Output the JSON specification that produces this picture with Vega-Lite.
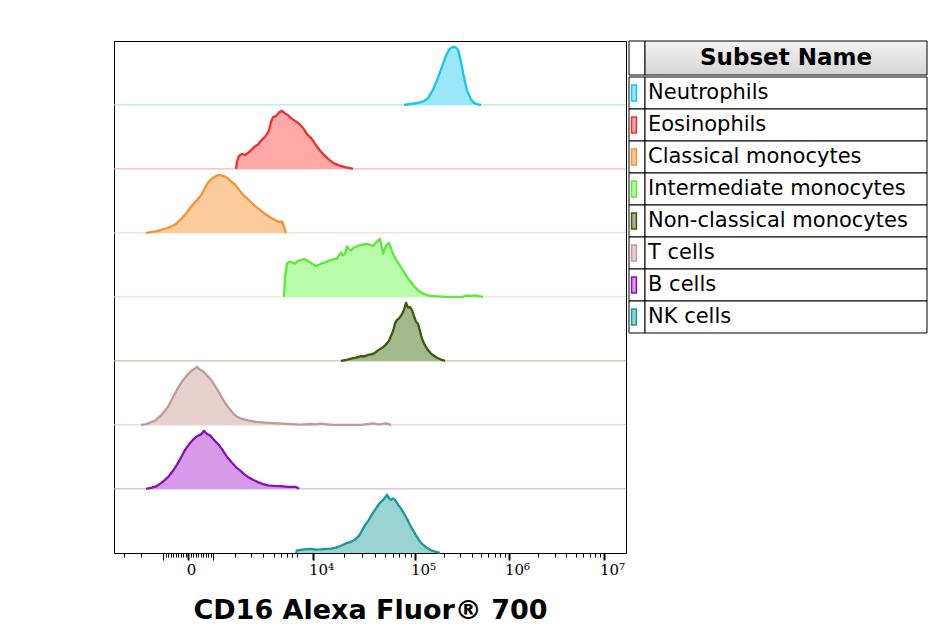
{
  "$schema": "https://vega.github.io/schema/vega-lite/v6.json",
  "padding": {"left": 113, "top": 40, "right": 0, "bottom": 0},
  "background": "white",
  "config": {"view": {"stroke": null}, "font": "DejaVu Sans"},
  "datasets": {
    "subsets": [
      {"subset": "Neutrophils"}, {"subset": "Eosinophils"}, {"subset": "Classical monocytes"}, {"subset": "Intermediate monocytes"},
      {"subset": "Non-classical monocytes"}, {"subset": "T cells"}, {"subset": "B cells"}, {"subset": "NK cells"}
    ],
    "hist": [
      {"subset":"Neutrophils","ch":580,"pct":0},{"subset":"Neutrophils","ch":594,"pct":1.5},{"subset":"Neutrophils","ch":608,"pct":3.6},{"subset":"Neutrophils","ch":620,"pct":6.3},{"subset":"Neutrophils","ch":628,"pct":11.7},{"subset":"Neutrophils","ch":638,"pct":26},{"subset":"Neutrophils","ch":648,"pct":47},{"subset":"Neutrophils","ch":657,"pct":68},{"subset":"Neutrophils","ch":664,"pct":85},{"subset":"Neutrophils","ch":671,"pct":96},{"subset":"Neutrophils","ch":676,"pct":99},{"subset":"Neutrophils","ch":680,"pct":100},{"subset":"Neutrophils","ch":685,"pct":98},{"subset":"Neutrophils","ch":689,"pct":93},{"subset":"Neutrophils","ch":694,"pct":74},{"subset":"Neutrophils","ch":699,"pct":52},{"subset":"Neutrophils","ch":706,"pct":25},{"subset":"Neutrophils","ch":714,"pct":9},{"subset":"Neutrophils","ch":721,"pct":3},{"subset":"Neutrophils","ch":727,"pct":1},{"subset":"Neutrophils","ch":734,"pct":0},

      {"subset":"Eosinophils","ch":244,"pct":0},{"subset":"Eosinophils","ch":246,"pct":12.6},{"subset":"Eosinophils","ch":250,"pct":22.4},{"subset":"Eosinophils","ch":256,"pct":25.6},{"subset":"Eosinophils","ch":262,"pct":24},{"subset":"Eosinophils","ch":268,"pct":27.3},{"subset":"Eosinophils","ch":274,"pct":32},{"subset":"Eosinophils","ch":282,"pct":38.7},{"subset":"Eosinophils","ch":288,"pct":42},{"subset":"Eosinophils","ch":294,"pct":48.4},{"subset":"Eosinophils","ch":300,"pct":53.3},{"subset":"Eosinophils","ch":306,"pct":59.8},{"subset":"Eosinophils","ch":310,"pct":66},{"subset":"Eosinophils","ch":314,"pct":81},{"subset":"Eosinophils","ch":318,"pct":89},{"subset":"Eosinophils","ch":324,"pct":90.8},{"subset":"Eosinophils","ch":330,"pct":97.3},{"subset":"Eosinophils","ch":336,"pct":100},{"subset":"Eosinophils","ch":342,"pct":95.6},{"subset":"Eosinophils","ch":348,"pct":92.4},{"subset":"Eosinophils","ch":354,"pct":87.5},{"subset":"Eosinophils","ch":362,"pct":82.6},{"subset":"Eosinophils","ch":368,"pct":79.4},{"subset":"Eosinophils","ch":374,"pct":74.5},{"subset":"Eosinophils","ch":380,"pct":68},{"subset":"Eosinophils","ch":386,"pct":59.8},{"subset":"Eosinophils","ch":394,"pct":53.3},{"subset":"Eosinophils","ch":402,"pct":43.5},{"subset":"Eosinophils","ch":410,"pct":33.8},{"subset":"Eosinophils","ch":420,"pct":24},{"subset":"Eosinophils","ch":430,"pct":15.9},{"subset":"Eosinophils","ch":440,"pct":9.4},{"subset":"Eosinophils","ch":450,"pct":6.1},{"subset":"Eosinophils","ch":460,"pct":3.3},{"subset":"Eosinophils","ch":474,"pct":0.7},{"subset":"Eosinophils","ch":478,"pct":0},

      {"subset":"Classical monocytes","ch":64,"pct":0},{"subset":"Classical monocytes","ch":74,"pct":1.3},{"subset":"Classical monocytes","ch":84,"pct":2.6},{"subset":"Classical monocytes","ch":94,"pct":5},{"subset":"Classical monocytes","ch":104,"pct":7.5},{"subset":"Classical monocytes","ch":114,"pct":10.7},{"subset":"Classical monocytes","ch":124,"pct":15.6},{"subset":"Classical monocytes","ch":134,"pct":23.8},{"subset":"Classical monocytes","ch":144,"pct":33.5},{"subset":"Classical monocytes","ch":154,"pct":45},{"subset":"Classical monocytes","ch":164,"pct":54.7},{"subset":"Classical monocytes","ch":174,"pct":64.5},{"subset":"Classical monocytes","ch":180,"pct":74.2},{"subset":"Classical monocytes","ch":186,"pct":84},{"subset":"Classical monocytes","ch":192,"pct":90.5},{"subset":"Classical monocytes","ch":198,"pct":94.6},{"subset":"Classical monocytes","ch":204,"pct":97.8},{"subset":"Classical monocytes","ch":210,"pct":100},{"subset":"Classical monocytes","ch":216,"pct":98.7},{"subset":"Classical monocytes","ch":222,"pct":97},{"subset":"Classical monocytes","ch":228,"pct":93.8},{"subset":"Classical monocytes","ch":234,"pct":88.9},{"subset":"Classical monocytes","ch":242,"pct":83.2},{"subset":"Classical monocytes","ch":250,"pct":74.2},{"subset":"Classical monocytes","ch":258,"pct":66},{"subset":"Classical monocytes","ch":266,"pct":59.6},{"subset":"Classical monocytes","ch":274,"pct":53},{"subset":"Classical monocytes","ch":282,"pct":46.6},{"subset":"Classical monocytes","ch":290,"pct":40.9},{"subset":"Classical monocytes","ch":298,"pct":35.2},{"subset":"Classical monocytes","ch":306,"pct":30.3},{"subset":"Classical monocytes","ch":314,"pct":26.2},{"subset":"Classical monocytes","ch":322,"pct":22.1},{"subset":"Classical monocytes","ch":330,"pct":18.9},{"subset":"Classical monocytes","ch":336,"pct":20},{"subset":"Classical monocytes","ch":340,"pct":10.7},{"subset":"Classical monocytes","ch":344,"pct":0},

      {"subset":"Intermediate monocytes","ch":340,"pct":0},{"subset":"Intermediate monocytes","ch":342,"pct":33.4},{"subset":"Intermediate monocytes","ch":346,"pct":57.8},{"subset":"Intermediate monocytes","ch":350,"pct":60.2},{"subset":"Intermediate monocytes","ch":356,"pct":59.4},{"subset":"Intermediate monocytes","ch":362,"pct":57},{"subset":"Intermediate monocytes","ch":368,"pct":61.9},{"subset":"Intermediate monocytes","ch":374,"pct":63.5},{"subset":"Intermediate monocytes","ch":380,"pct":65.1},{"subset":"Intermediate monocytes","ch":386,"pct":62.7},{"subset":"Intermediate monocytes","ch":392,"pct":59.4},{"subset":"Intermediate monocytes","ch":398,"pct":56.2},{"subset":"Intermediate monocytes","ch":404,"pct":52.9},{"subset":"Intermediate monocytes","ch":410,"pct":55.4},{"subset":"Intermediate monocytes","ch":416,"pct":57.8},{"subset":"Intermediate monocytes","ch":422,"pct":59.4},{"subset":"Intermediate monocytes","ch":428,"pct":61.9},{"subset":"Intermediate monocytes","ch":434,"pct":63.5},{"subset":"Intermediate monocytes","ch":440,"pct":65.1},{"subset":"Intermediate monocytes","ch":446,"pct":65.9},{"subset":"Intermediate monocytes","ch":450,"pct":72.4},{"subset":"Intermediate monocytes","ch":454,"pct":76.5},{"subset":"Intermediate monocytes","ch":458,"pct":71.6},{"subset":"Intermediate monocytes","ch":462,"pct":74},{"subset":"Intermediate monocytes","ch":466,"pct":87},{"subset":"Intermediate monocytes","ch":470,"pct":82.2},{"subset":"Intermediate monocytes","ch":474,"pct":79.8},{"subset":"Intermediate monocytes","ch":478,"pct":83.8},{"subset":"Intermediate monocytes","ch":482,"pct":85.5},{"subset":"Intermediate monocytes","ch":488,"pct":87.9},{"subset":"Intermediate monocytes","ch":494,"pct":89.5},{"subset":"Intermediate monocytes","ch":500,"pct":90.4},{"subset":"Intermediate monocytes","ch":506,"pct":91.2},{"subset":"Intermediate monocytes","ch":512,"pct":89.5},{"subset":"Intermediate monocytes","ch":518,"pct":87.6},{"subset":"Intermediate monocytes","ch":524,"pct":93.6},{"subset":"Intermediate monocytes","ch":528,"pct":96.9},{"subset":"Intermediate monocytes","ch":532,"pct":100},{"subset":"Intermediate monocytes","ch":536,"pct":83.8},{"subset":"Intermediate monocytes","ch":538,"pct":74},{"subset":"Intermediate monocytes","ch":542,"pct":83.8},{"subset":"Intermediate monocytes","ch":546,"pct":90.4},{"subset":"Intermediate monocytes","ch":550,"pct":92.8},{"subset":"Intermediate monocytes","ch":554,"pct":83.8},{"subset":"Intermediate monocytes","ch":558,"pct":74},{"subset":"Intermediate monocytes","ch":564,"pct":64.3},{"subset":"Intermediate monocytes","ch":570,"pct":56.2},{"subset":"Intermediate monocytes","ch":576,"pct":48},{"subset":"Intermediate monocytes","ch":582,"pct":39.9},{"subset":"Intermediate monocytes","ch":588,"pct":31.7},{"subset":"Intermediate monocytes","ch":594,"pct":25.2},{"subset":"Intermediate monocytes","ch":600,"pct":18.7},{"subset":"Intermediate monocytes","ch":608,"pct":11.4},{"subset":"Intermediate monocytes","ch":616,"pct":6.5},{"subset":"Intermediate monocytes","ch":624,"pct":3.6},{"subset":"Intermediate monocytes","ch":634,"pct":1.6},{"subset":"Intermediate monocytes","ch":648,"pct":0.8},{"subset":"Intermediate monocytes","ch":664,"pct":0},{"subset":"Intermediate monocytes","ch":698,"pct":0},{"subset":"Intermediate monocytes","ch":704,"pct":2.4},{"subset":"Intermediate monocytes","ch":714,"pct":1.6},{"subset":"Intermediate monocytes","ch":722,"pct":2.4},{"subset":"Intermediate monocytes","ch":730,"pct":1.3},{"subset":"Intermediate monocytes","ch":738,"pct":0},

      {"subset":"Non-classical monocytes","ch":454,"pct":0},{"subset":"Non-classical monocytes","ch":464,"pct":1.5},{"subset":"Non-classical monocytes","ch":474,"pct":3.9},{"subset":"Non-classical monocytes","ch":484,"pct":5.5},{"subset":"Non-classical monocytes","ch":494,"pct":8.3},{"subset":"Non-classical monocytes","ch":502,"pct":8},{"subset":"Non-classical monocytes","ch":508,"pct":10.4},{"subset":"Non-classical monocytes","ch":514,"pct":11.2},{"subset":"Non-classical monocytes","ch":520,"pct":12.9},{"subset":"Non-classical monocytes","ch":526,"pct":16.9},{"subset":"Non-classical monocytes","ch":532,"pct":20.2},{"subset":"Non-classical monocytes","ch":538,"pct":23.4},{"subset":"Non-classical monocytes","ch":544,"pct":28.3},{"subset":"Non-classical monocytes","ch":550,"pct":34.8},{"subset":"Non-classical monocytes","ch":554,"pct":43},{"subset":"Non-classical monocytes","ch":558,"pct":51.1},{"subset":"Non-classical monocytes","ch":562,"pct":64.1},{"subset":"Non-classical monocytes","ch":566,"pct":70.7},{"subset":"Non-classical monocytes","ch":570,"pct":73.1},{"subset":"Non-classical monocytes","ch":574,"pct":77.7},{"subset":"Non-classical monocytes","ch":578,"pct":83.7},{"subset":"Non-classical monocytes","ch":582,"pct":93.4},{"subset":"Non-classical monocytes","ch":584,"pct":100},{"subset":"Non-classical monocytes","ch":588,"pct":91.8},{"subset":"Non-classical monocytes","ch":592,"pct":92.6},{"subset":"Non-classical monocytes","ch":596,"pct":86.9},{"subset":"Non-classical monocytes","ch":600,"pct":77.2},{"subset":"Non-classical monocytes","ch":604,"pct":67.4},{"subset":"Non-classical monocytes","ch":608,"pct":64.1},{"subset":"Non-classical monocytes","ch":612,"pct":51.1},{"subset":"Non-classical monocytes","ch":616,"pct":38.1},{"subset":"Non-classical monocytes","ch":622,"pct":26.7},{"subset":"Non-classical monocytes","ch":628,"pct":18.6},{"subset":"Non-classical monocytes","ch":634,"pct":12.5},{"subset":"Non-classical monocytes","ch":640,"pct":8.8},{"subset":"Non-classical monocytes","ch":646,"pct":5.5},{"subset":"Non-classical monocytes","ch":654,"pct":2.3},{"subset":"Non-classical monocytes","ch":662,"pct":0},

      {"subset":"T cells","ch":54,"pct":0},{"subset":"T cells","ch":64,"pct":1.2},{"subset":"T cells","ch":74,"pct":4.5},{"subset":"T cells","ch":84,"pct":8.5},{"subset":"T cells","ch":94,"pct":16.2},{"subset":"T cells","ch":102,"pct":24.8},{"subset":"T cells","ch":108,"pct":31.3},{"subset":"T cells","ch":114,"pct":41.1},{"subset":"T cells","ch":120,"pct":50.9},{"subset":"T cells","ch":126,"pct":60.6},{"subset":"T cells","ch":132,"pct":68.8},{"subset":"T cells","ch":138,"pct":76.9},{"subset":"T cells","ch":144,"pct":83.4},{"subset":"T cells","ch":150,"pct":89.1},{"subset":"T cells","ch":156,"pct":94},{"subset":"T cells","ch":162,"pct":97.3},{"subset":"T cells","ch":166,"pct":100},{"subset":"T cells","ch":172,"pct":94.8},{"subset":"T cells","ch":178,"pct":92.4},{"subset":"T cells","ch":184,"pct":86.7},{"subset":"T cells","ch":190,"pct":81.8},{"subset":"T cells","ch":196,"pct":75.3},{"subset":"T cells","ch":202,"pct":67.2},{"subset":"T cells","ch":208,"pct":59},{"subset":"T cells","ch":214,"pct":49.2},{"subset":"T cells","ch":220,"pct":41.1},{"subset":"T cells","ch":226,"pct":33},{"subset":"T cells","ch":232,"pct":26.5},{"subset":"T cells","ch":238,"pct":19.9},{"subset":"T cells","ch":246,"pct":14.2},{"subset":"T cells","ch":256,"pct":10.2},{"subset":"T cells","ch":268,"pct":7.7},{"subset":"T cells","ch":284,"pct":5.3},{"subset":"T cells","ch":304,"pct":3.7},{"subset":"T cells","ch":328,"pct":2.5},{"subset":"T cells","ch":354,"pct":1.2},{"subset":"T cells","ch":374,"pct":0.4},{"subset":"T cells","ch":394,"pct":1.5},{"subset":"T cells","ch":404,"pct":0.7},{"subset":"T cells","ch":414,"pct":2},{"subset":"T cells","ch":426,"pct":1},{"subset":"T cells","ch":438,"pct":0},{"subset":"T cells","ch":494,"pct":0},{"subset":"T cells","ch":518,"pct":2.4},{"subset":"T cells","ch":530,"pct":0.9},{"subset":"T cells","ch":544,"pct":2.5},{"subset":"T cells","ch":554,"pct":0},

      {"subset":"B cells","ch":64,"pct":0},{"subset":"B cells","ch":74,"pct":1.8},{"subset":"B cells","ch":84,"pct":4.2},{"subset":"B cells","ch":94,"pct":9.9},{"subset":"B cells","ch":102,"pct":15.6},{"subset":"B cells","ch":110,"pct":22.1},{"subset":"B cells","ch":118,"pct":31.1},{"subset":"B cells","ch":126,"pct":41.7},{"subset":"B cells","ch":134,"pct":53.9},{"subset":"B cells","ch":142,"pct":66.9},{"subset":"B cells","ch":150,"pct":76.7},{"subset":"B cells","ch":158,"pct":84.8},{"subset":"B cells","ch":166,"pct":90.5},{"subset":"B cells","ch":174,"pct":93.8},{"subset":"B cells","ch":180,"pct":100},{"subset":"B cells","ch":186,"pct":94.6},{"subset":"B cells","ch":192,"pct":92.1},{"subset":"B cells","ch":198,"pct":86.4},{"subset":"B cells","ch":204,"pct":80.7},{"subset":"B cells","ch":210,"pct":75},{"subset":"B cells","ch":216,"pct":68.5},{"subset":"B cells","ch":222,"pct":60.4},{"subset":"B cells","ch":228,"pct":53.1},{"subset":"B cells","ch":236,"pct":44.9},{"subset":"B cells","ch":244,"pct":37.6},{"subset":"B cells","ch":252,"pct":31.9},{"subset":"B cells","ch":260,"pct":25.4},{"subset":"B cells","ch":268,"pct":20.5},{"subset":"B cells","ch":278,"pct":15.6},{"subset":"B cells","ch":288,"pct":11.6},{"subset":"B cells","ch":298,"pct":8.3},{"subset":"B cells","ch":308,"pct":6.2},{"subset":"B cells","ch":320,"pct":5},{"subset":"B cells","ch":334,"pct":4.6},{"subset":"B cells","ch":348,"pct":3.4},{"subset":"B cells","ch":364,"pct":3.4},{"subset":"B cells","ch":370,"pct":0},

      {"subset":"NK cells","ch":364,"pct":0},{"subset":"NK cells","ch":366,"pct":4.1},{"subset":"NK cells","ch":374,"pct":5.2},{"subset":"NK cells","ch":384,"pct":6.5},{"subset":"NK cells","ch":394,"pct":6.8},{"subset":"NK cells","ch":404,"pct":5.7},{"subset":"NK cells","ch":414,"pct":6},{"subset":"NK cells","ch":424,"pct":6.8},{"subset":"NK cells","ch":434,"pct":7.3},{"subset":"NK cells","ch":444,"pct":9},{"subset":"NK cells","ch":454,"pct":12.2},{"subset":"NK cells","ch":464,"pct":16.3},{"subset":"NK cells","ch":474,"pct":19},{"subset":"NK cells","ch":482,"pct":22.8},{"subset":"NK cells","ch":490,"pct":29.3},{"subset":"NK cells","ch":496,"pct":38.3},{"subset":"NK cells","ch":502,"pct":48},{"subset":"NK cells","ch":508,"pct":54.5},{"subset":"NK cells","ch":514,"pct":63.5},{"subset":"NK cells","ch":520,"pct":71.6},{"subset":"NK cells","ch":526,"pct":79},{"subset":"NK cells","ch":532,"pct":86.3},{"subset":"NK cells","ch":538,"pct":91.2},{"subset":"NK cells","ch":542,"pct":95.2},{"subset":"NK cells","ch":546,"pct":100},{"subset":"NK cells","ch":550,"pct":94.4},{"subset":"NK cells","ch":554,"pct":91.2},{"subset":"NK cells","ch":558,"pct":93.6},{"subset":"NK cells","ch":562,"pct":91.2},{"subset":"NK cells","ch":568,"pct":83},{"subset":"NK cells","ch":574,"pct":76.5},{"subset":"NK cells","ch":580,"pct":67.6},{"subset":"NK cells","ch":586,"pct":58.6},{"subset":"NK cells","ch":592,"pct":48},{"subset":"NK cells","ch":598,"pct":39},{"subset":"NK cells","ch":604,"pct":30.1},{"subset":"NK cells","ch":610,"pct":22},{"subset":"NK cells","ch":616,"pct":15.5},{"subset":"NK cells","ch":624,"pct":9.8},{"subset":"NK cells","ch":634,"pct":4.4},{"subset":"NK cells","ch":644,"pct":1.6},{"subset":"NK cells","ch":652,"pct":0}
    ]
  },
  "spacing": 1,
  "resolve": {"scale": {"x": "independent", "y": "independent"}},
  "hconcat": [
    {
      "data": {"name": "hist"},
      "facet": {"row": {"field": "subset", "type": "nominal", "header": null,
        "sort": ["Neutrophils","Eosinophils","Classical monocytes","Intermediate monocytes","Non-classical monocytes","T cells","B cells","NK cells"]}},
      "spacing": 0,
      "bounds": "flush",
      "spec": {
        "width": 512,
        "height": 63.875,
        "layer": [
          {
            "transform": [{"filter": "datum.subset != 'NK cells'"}, {"aggregate": [{"op": "count", "as": "n"}], "groupby": ["subset"]}],
            "mark": {"type": "rule", "strokeWidth": 1},
            "encoding": {
              "y": {"datum": 0, "type": "quantitative", "scale": {"domain": [0, 104]}, "axis": null},
              "color": {"field": "subset", "type": "nominal", "legend": null,
                "scale": {"domain": ["Neutrophils","Eosinophils","Classical monocytes","Intermediate monocytes","Non-classical monocytes","T cells","B cells","NK cells"],
                          "range": ["#a3dcea","#f0a8a8","#f5d2b4","#c6edb8","#a9b89c","#dccac8","#c9a6d8","#1a9796"]}}
            }
          },
          {
            "mark": {"type": "area", "opacity": 1},
            "encoding": {
              "x": {"field": "ch", "type": "quantitative", "scale": {"domain": [0, 1024], "nice": false, "zero": false},
                "axis": {
                  "orient": "bottom",
                  "values": [20,54,98,103,108,113,118,123,128,133,138,143,148,153,158,163,168,173,178,183,188,193,198,242,274,298,320,334,346,356,366,398,459,495,521,541,557,570,582,593,602,659,692,715,733,748,761,772,781,790,847,881,904,923,938,951,962,971,980],
                  "labelExpr": "datum.value == 148 ? '0' : datum.value == 398 ? '10⁴' : datum.value == 602 ? '10⁵' : datum.value == 790 ? '10⁶' : datum.value == 980 ? '10⁷' : ''",
                  "labelFont": "DejaVu Serif", "labelFontSize": 15, "labelColor": "black", "labelPadding": 2,
                  "labelOverlap": false, "labelFlush": false,
                  "labelOffset": {"condition": {"test": "datum.value == 148", "value": 3}, "value": 8},
                  "tickColor": "black",
                  "tickSize": {"condition": {"test": "indexof([98,148,198,398,602,790,980], datum.value) >= 0", "value": 7}, "value": 4},
                  "tickWidth": {"condition": {"test": "indexof([148,398,602,790,980], datum.value) >= 0", "value": 2}, "value": 1},
                  "domainColor": "black", "domainWidth": 1, "grid": false,
                  "title": "CD16 Alexa Fluor® 700", "titleFont": "DejaVu Sans", "titleFontSize": 27, "titleFontWeight": "bold",
                  "titleColor": "black", "titlePadding": 20
                }},
              "y": {"field": "pct", "type": "quantitative", "scale": {"domain": [0, 104]}, "axis": null},
              "fill": {"field": "subset", "type": "nominal", "legend": null,
                "scale": {"domain": ["Neutrophils","Eosinophils","Classical monocytes","Intermediate monocytes","Non-classical monocytes","T cells","B cells","NK cells"],
                          "range": ["#9be7f9","#ffa8a8","#fdcb9c","#b9fdaa","#a3b88b","#e7d1cf","#d69ae9","#9ad3d3"]}}
            }
          },
          {
            "mark": {"type": "line", "strokeWidth": 2.3, "strokeJoin": "round"},
            "encoding": {
              "x": {"field": "ch", "type": "quantitative",
                "axis": {"orient": "top", "values": [0, 1024], "ticks": false, "labels": false, "domain": true, "domainColor": "black",
                         "domainWidth": 1, "grid": true, "gridColor": "black", "gridOpacity": 1, "gridWidth": 1, "title": null}},
              "y": {"field": "pct", "type": "quantitative", "axis": null},
              "stroke": {"field": "subset", "type": "nominal", "legend": null,
                "scale": {"domain": ["Neutrophils","Eosinophils","Classical monocytes","Intermediate monocytes","Non-classical monocytes","T cells","B cells","NK cells"],
                          "range": ["#19c3ea","#ec3030","#f29436","#5be83a","#385c0c","#c39895","#8a0fb5","#1a9796"]}}
            }
          }
        ],
        "resolve": {"axis": {"x": "independent"}}
      }
    },
    {
      "spacing": 0,
      "vconcat": [
        {
          "spacing": 0,
          "bounds": "flush",
          "hconcat": [
            {"data": {"values": [{"k": 1}]}, "width": 16, "height": 34,
             "mark": {"type": "rect", "fill": "white", "stroke": "black", "strokeWidth": 1}, "encoding": {}},
            {"data": {"values": [{"label": "Subset Name"}]}, "width": 282, "height": 34,
             "layer": [
               {"mark": {"type": "rect", "stroke": "black", "strokeWidth": 1,
                         "fill": {"gradient": "linear", "x1": 0, "y1": 0, "x2": 0, "y2": 1,
                                  "stops": [{"offset": 0, "color": "#f3f3f3"}, {"offset": 1, "color": "#d5d5d5"}]}},
                "encoding": {}},
               {"mark": {"type": "text", "font": "DejaVu Sans", "fontSize": 23, "fontWeight": "bold", "color": "black", "baseline": "middle"},
                "encoding": {"text": {"field": "label", "type": "nominal"}}}
             ]}
          ]
        },
        {
          "spacing": 0,
          "bounds": "flush",
          "hconcat": [
            {"data": {"name": "subsets"}, "width": 16, "height": 256,
             "layer": [
               {"mark": {"type": "rect", "fill": "white", "stroke": "black", "strokeWidth": 1},
                "encoding": {"y": {"field": "subset", "type": "nominal", "axis": null, "scale": {"paddingInner": 0, "paddingOuter": 0},
                  "sort": ["Neutrophils","Eosinophils","Classical monocytes","Intermediate monocytes","Non-classical monocytes","T cells","B cells","NK cells"]}}},
               {"mark": {"type": "point", "shape": "M-0.3,-1H0.3V1H-0.3Z", "size": 256, "filled": true, "opacity": 1, "strokeWidth": 1.5, "xOffset": -3},
                "encoding": {
                  "y": {"field": "subset", "type": "nominal", "axis": null,
                    "sort": ["Neutrophils","Eosinophils","Classical monocytes","Intermediate monocytes","Non-classical monocytes","T cells","B cells","NK cells"]},
                  "fill": {"field": "subset", "type": "nominal", "legend": null,
                    "scale": {"domain": ["Neutrophils","Eosinophils","Classical monocytes","Intermediate monocytes","Non-classical monocytes","T cells","B cells","NK cells"],
                              "range": ["#9be7f9","#ffa8a8","#fdcb9c","#b9fdaa","#a3b88b","#e7d1cf","#d69ae9","#9ad3d3"]}},
                  "stroke": {"field": "subset", "type": "nominal", "legend": null,
                    "scale": {"domain": ["Neutrophils","Eosinophils","Classical monocytes","Intermediate monocytes","Non-classical monocytes","T cells","B cells","NK cells"],
                              "range": ["#19c3ea","#ec3030","#f29436","#5be83a","#385c0c","#c39895","#8a0fb5","#1a9796"]}}
                }}
             ]},
            {"data": {"name": "subsets"}, "width": 282, "height": 256,
             "layer": [
               {"mark": {"type": "rect", "fill": "white", "stroke": "black", "strokeWidth": 1},
                "encoding": {"y": {"field": "subset", "type": "nominal", "axis": null, "scale": {"paddingInner": 0, "paddingOuter": 0},
                  "sort": ["Neutrophils","Eosinophils","Classical monocytes","Intermediate monocytes","Non-classical monocytes","T cells","B cells","NK cells"]}}},
               {"mark": {"type": "text", "align": "left", "baseline": "middle", "dx": 3, "font": "DejaVu Sans", "fontSize": 21, "color": "black"},
                "encoding": {
                  "y": {"field": "subset", "type": "nominal", "axis": null,
                    "sort": ["Neutrophils","Eosinophils","Classical monocytes","Intermediate monocytes","Non-classical monocytes","T cells","B cells","NK cells"]},
                  "x": {"datum": 0, "type": "quantitative", "scale": {"domain": [0, 1]}, "axis": null},
                  "text": {"field": "subset", "type": "nominal"}
                }}
             ]}
          ]
        }
      ]
    }
  ]
}
